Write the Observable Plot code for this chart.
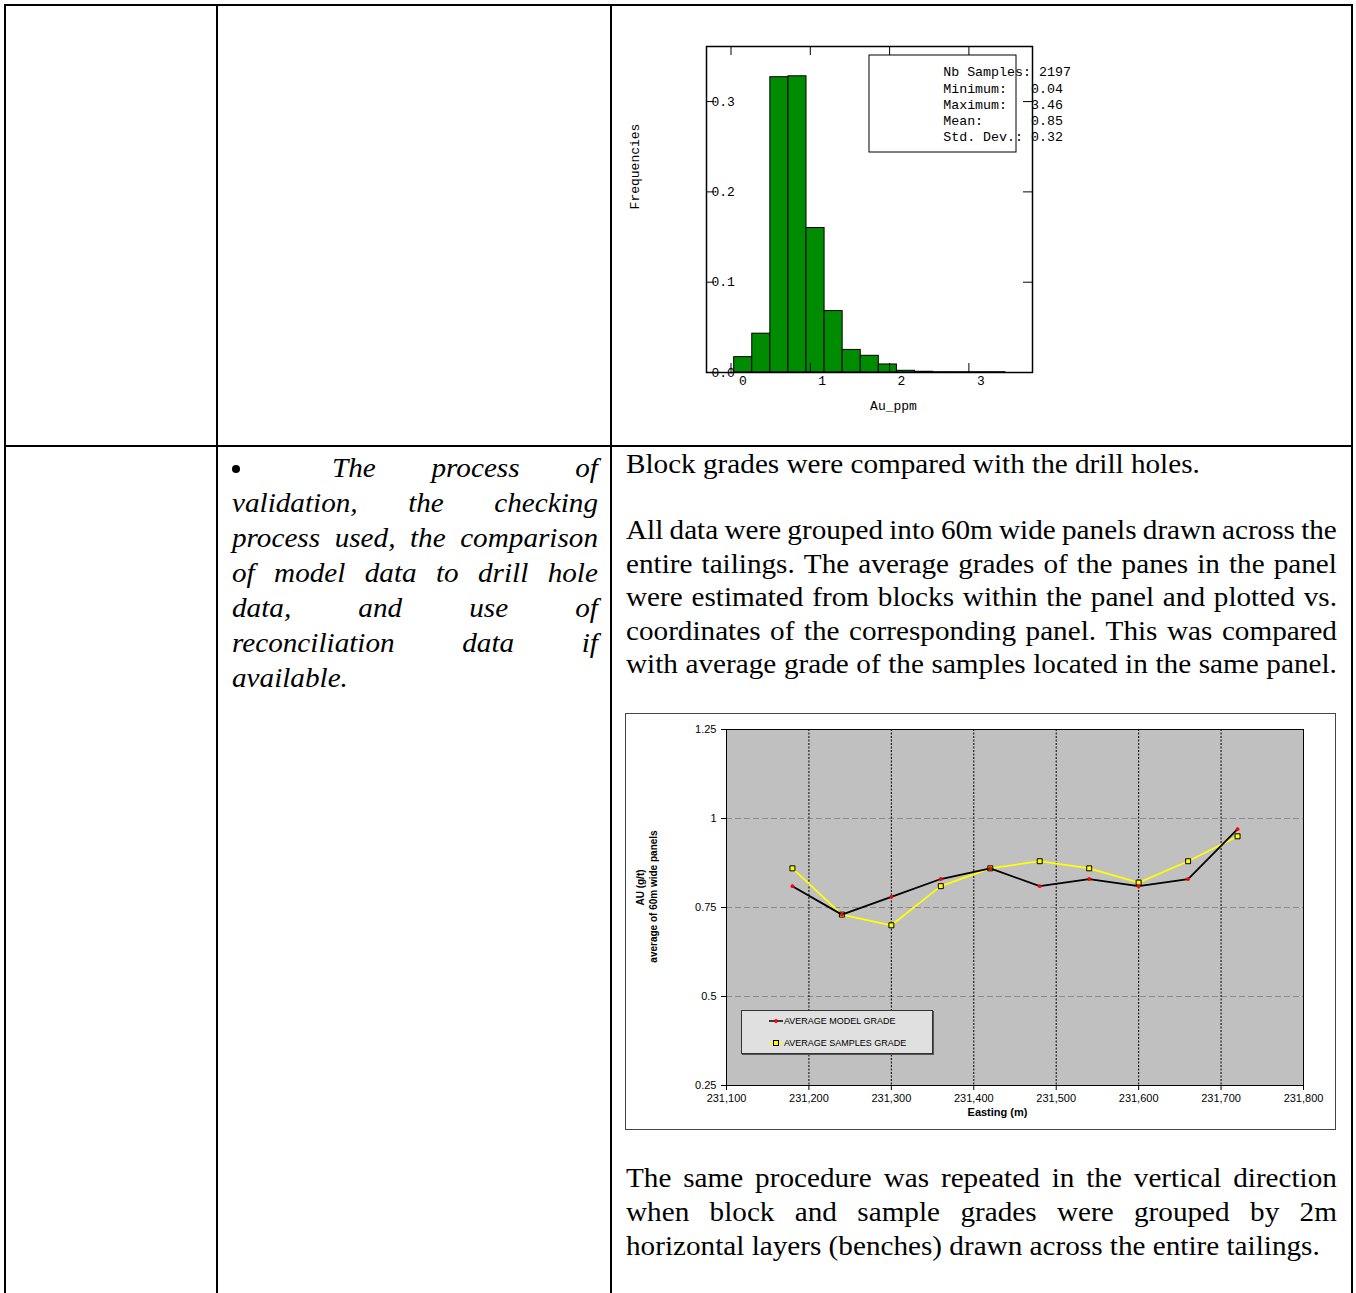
<!DOCTYPE html>
<html><head><meta charset="utf-8">
<script src="https://cdn.jsdelivr.net/npm/d3@7"></script>
<script src="https://cdn.jsdelivr.net/npm/@observablehq/plot@0.6"></script>
<style>
html,body{margin:0;padding:0;background:#fff;}
#page{position:relative;width:1356px;height:1293px;overflow:hidden;background:#fff;}
.b{position:absolute;background:#000;}
.ln{position:absolute;font-family:"Liberation Serif","Times New Roman",serif;font-size:27px;line-height:34px;height:34px;white-space:nowrap;transform-origin:0 0;transform:scaleX(1.081);display:flex;align-items:baseline;color:#000;}
.ln.i{font-style:italic;line-height:35px;height:35px;}
.ln.j{justify-content:space-between;}
.ln.j span{white-space:pre;}
#hist{position:absolute;left:620px;top:40px;width:460px;height:380px;}
#chart{position:absolute;left:625px;top:713px;width:711px;height:417px;}
#chartBox{position:absolute;left:625px;top:713px;width:711px;height:417px;box-sizing:border-box;border:1px solid #444;pointer-events:none;}
#legend{position:absolute;left:741px;top:1010px;width:192px;height:44px;box-sizing:border-box;border:1px solid #333;box-shadow:1px 1px 0 #555;background:#e0e0e0;font-family:"Liberation Sans",Arial,sans-serif;font-size:9px;}
#legend svg{position:absolute;left:0;top:0;}
#bullet{position:absolute;left:231px;top:455px;width:12px;height:12px;font-size:0;}
#bullet i{position:absolute;left:1px;top:2px;width:8px;height:8px;border-radius:50%;background:#000;}
svg text{white-space:pre;}
</style>
</head><body>
<div id="page">
  <div class="b" style="left:4px;top:4px;width:2px;height:1289px"></div>
  <div class="b" style="left:216px;top:4px;width:2px;height:1289px"></div>
  <div class="b" style="left:610px;top:4px;width:2px;height:1289px"></div>
  <div class="b" style="left:1351px;top:4px;width:2px;height:1289px"></div>
  <div class="b" style="left:4px;top:4px;width:1349px;height:2px"></div>
  <div class="b" style="left:4px;top:445px;width:1349px;height:2px"></div>
  <div id="hist"></div>
  <div id="text"></div>
  <div id="bullet"><i></i></div>
  <div id="chart"></div>
  <div id="chartBox"></div>
  <div id="legend"></div>
</div>
<script>
// ---------- Histogram data ----------
const binEdges = [0.04, 0.268, 0.496, 0.724, 0.952, 1.18, 1.408, 1.636, 1.864, 2.092, 2.32, 2.548, 2.776, 3.004, 3.232, 3.46];
const binFreq = [0.017, 0.043, 0.327, 0.328, 0.160, 0.068, 0.025, 0.0185, 0.0089, 0.0019, 0.0008, 0.0003, 0.0003, 0.0003, 0.0003];
const histXTicks = [0, 1, 2, 3];
const histYTicks = [0, 0.1, 0.2, 0.3];
const statNames = ["Nb Samples:", "Minimum:", "Maximum:", "Mean:", "Std. Dev.:"];
const statValues = ["2197", "0.04", "3.46", "0.85", "0.32"];

// ---------- Line chart data ----------
const eastings = [231180, 231240, 231300, 231360, 231420, 231480, 231540, 231600, 231660, 231720];
const modelGrade = [0.81, 0.73, 0.78, 0.83, 0.86, 0.81, 0.83, 0.81, 0.83, 0.97];
const samplesGrade = [0.86, 0.73, 0.70, 0.81, 0.86, 0.88, 0.86, 0.82, 0.88, 0.95];
const chartXTicks = [231100, 231200, 231300, 231400, 231500, 231600, 231700, 231800];
const chartYTicks = [0.25, 0.5, 0.75, 1, 1.25];
const seriesNames = ["AVERAGE MODEL GRADE", "AVERAGE SAMPLES GRADE"];

// ---------- Histogram ----------
{
  const W = 460, H = 380, mL = 86, mR = 48, mT = 6, mB = 48;
  const X0 = -0.309, X1 = 3.802, Y1 = 0.361;
  const kx = (W - mL - mR) / (X1 - X0), ky = (H - mT - mB) / Y1;
  const bins = binFreq.map((f, i) => ({x1: binEdges[i], x2: binEdges[i + 1], f}));
  const mono = "Liberation Mono, DejaVu Sans Mono, monospace";
  const statText = statNames.map((n, i) => (n + " ").padEnd(11) + statValues[i]).join("\n");
  const p = Plot.plot({
    width: W, height: H, marginLeft: mL, marginRight: mR, marginTop: mT, marginBottom: mB,
    style: {fontFamily: mono, fontSize: "13px", background: "transparent", color: "#000", overflow: "visible"},
    x: {domain: [X0, X1], axis: null},
    y: {domain: [0, Y1], axis: null},
    marks: [
      Plot.rectY(bins, {x1: "x1", x2: "x2", y: "f", fill: "#008c00", stroke: "#000", strokeWidth: 1}),
      Plot.ruleX(histXTicks, {x: d => d, y1: 0, y2: 9 / ky, stroke: "#000"}),
      Plot.ruleX(histXTicks, {x: d => d, y1: Y1 - 9 / ky, y2: Y1, stroke: "#000"}),
      Plot.ruleY(histYTicks, {y: d => d, x1: X0, x2: X0 + 8 / kx, stroke: "#000"}),
      Plot.ruleY(histYTicks, {y: d => d, x1: X1 - 9 / kx, x2: X1, stroke: "#000"}),
      Plot.text(histYTicks, {y: d => d, text: d => d3.format(".1f")(d), frameAnchor: "left", dx: 5, textAnchor: "start", lineAnchor: "middle", fill: "#000", fontSize: 13}),
      Plot.text(histXTicks, {x: d => d, text: d => String(d), frameAnchor: "bottom", dx: 8, dy: 8, textAnchor: "start", lineAnchor: "middle", fill: "#000", fontSize: 13}),
      Plot.rect([{}], {x1: X0 + (869 - 706) / kx, x2: X0 + (1016 - 706) / kx, y1: Y1 - (152 - 46) / ky, y2: Y1 - (55 - 46) / ky, fill: "#fff", stroke: "#000", strokeWidth: 1}),
      Plot.text([statText], {text: d => d, frameAnchor: "top-left", dx: 236.7, dy: 18.3, textAnchor: "start", lineAnchor: "top", lineHeight: 16.25 / 13.3, fill: "#000", fontSize: 13.3}),
      Plot.text(["Frequencies"], {text: d => d, frameAnchor: "left", dx: -72, dy: -43, rotate: -90, textAnchor: "middle", lineAnchor: "middle", fill: "#000", fontSize: 13}),
      Plot.text(["Au_ppm"], {text: d => d, frameAnchor: "bottom", dx: 24, dy: 33, textAnchor: "middle", lineAnchor: "middle", fill: "#000", fontSize: 13}),
      Plot.frame({stroke: "#000", strokeWidth: 1.5})
    ]
  });
  document.getElementById("hist").appendChild(p);
}

// ---------- Line chart ----------
{
  const model = eastings.map((x, i) => ({x, y: modelGrade[i]}));
  const samples = eastings.map((x, i) => ({x, y: samplesGrade[i]}));
  const sans = "Liberation Sans, Arial, sans-serif";
  const p = Plot.plot({
    width: 711, height: 417, marginLeft: 101, marginRight: 33, marginTop: 16, marginBottom: 45,
    style: {fontFamily: sans, fontSize: "11px", background: "transparent", color: "#000", overflow: "visible"},
    x: {domain: [231100, 231800]},
    y: {domain: [0.25, 1.25]},
    marks: [
      Plot.frame({fill: "#c0c0c0", stroke: null}),
      Plot.ruleY(chartYTicks.slice(1, -1), {y: d => d, stroke: "#8c8c8c", strokeDasharray: "6,3", strokeWidth: 1}),
      Plot.ruleX(chartXTicks.slice(1, -1), {x: d => d, stroke: "#000", strokeDasharray: "2,1.5", strokeWidth: 1}),
      Plot.frame({stroke: "#000", strokeWidth: 1}),
      Plot.axisY({ticks: chartYTicks, tickSize: 5, tickPadding: 5, tickFormat: d => String(d), label: null, fontSize: 11}),
      Plot.axisX({ticks: chartXTicks, tickSize: 5, tickPadding: 4, tickFormat: d3.format(","), label: null, fontSize: 11}),
      Plot.line(samples, {x: "x", y: "y", stroke: "#ffff00", strokeWidth: 1.75}),
      Plot.dot(samples, {x: "x", y: "y", symbol: "square", r: 2.8, fill: "#ffff00", stroke: "#000", strokeWidth: 1}),
      Plot.line(model, {x: "x", y: "y", stroke: "#000", strokeWidth: 1.75}),
      Plot.dot(model, {x: "x", y: "y", r: 1.9, fill: "#ff0000", stroke: null}),
      Plot.text(["AU (g/t)"], {text: d => d, frameAnchor: "left", dx: -86, dy: -20, rotate: -90, textAnchor: "middle", lineAnchor: "middle", fontWeight: "bold", fontSize: 10, fill: "#000"}),
      Plot.text(["average of 60m wide panels"], {text: d => d, frameAnchor: "left", dx: -73, dy: -11, rotate: -90, textAnchor: "middle", lineAnchor: "middle", fontWeight: "bold", fontSize: 10, fill: "#000"}),
      Plot.text(["Easting (m)"], {text: d => d, frameAnchor: "bottom", dx: -17.5, dy: 27, textAnchor: "middle", lineAnchor: "middle", fontWeight: "bold", fontSize: 11, fill: "#000"})
    ]
  });
  document.getElementById("chart").appendChild(p);

  // legend
  const lg = document.getElementById("legend");
  lg.innerHTML = `<svg width="192" height="44">
    <line x1="27" x2="41" y1="10" y2="10" stroke="#000" stroke-width="1.5"/>
    <circle cx="34" cy="10" r="1.9" fill="#ff0000"/>
    <text x="42" y="13.3" fill="#000" font-size="9">${seriesNames[0]}</text>
    <line x1="27" x2="41" y1="32" y2="32" stroke="#ffff00" stroke-width="1.5"/>
    <rect x="31.5" y="29.5" width="5" height="5" fill="#ffff00" stroke="#000" stroke-width="1"/>
    <text x="42" y="35.3" fill="#000" font-size="9">${seriesNames[1]}</text>
  </svg>`;
}

// ---------- Document text ----------
{
  const host = document.getElementById("text");
  const S = 1.081, FS = 27;
  const baseOff = lh => (lh - 1.107 * FS) / 2 + 0.891 * FS;
  function line(txt, left, width, baseline, opts = {}) {
    const d = document.createElement("div");
    const lh = opts.italic ? 35 : 34;
    d.className = "ln" + (opts.italic ? " i" : "") + (opts.justify ? " j" : "");
    d.style.left = left + "px";
    d.style.top = (baseline - baseOff(lh)) + "px";
    d.style.width = (width / S) + "px";
    if (opts.justify) {
      txt.split(/\s+/).forEach(w => { const s = document.createElement("span"); s.textContent = w; d.appendChild(s); });
    } else {
      d.textContent = txt;
    }
    host.appendChild(d);
  }
  // left column
  const L0 = 478, LS = 35;
  line("The process of", 332, 266, L0, {italic: true, justify: true});
  line("validation, the checking", 232, 366, L0 + LS, {italic: true, justify: true});
  line("process used, the comparison", 232, 366, L0 + 2 * LS, {italic: true, justify: true});
  line("of model data to drill hole", 232, 366, L0 + 3 * LS, {italic: true, justify: true});
  line("data, and use of", 232, 366, L0 + 4 * LS, {italic: true, justify: true});
  line("reconciliation data if", 232, 366, L0 + 5 * LS, {italic: true, justify: true});
  line("available.", 232, 366, L0 + 6 * LS, {italic: true});
  document.getElementById("bullet").style.top = (L0 - 15) + "px";
  // right column
  line("Block grades were compared with the drill holes.", 626, 711, 473.5);
  const R0 = 539.3, RS = 33.5;
  ["All data were grouped into 60m wide panels drawn across the",
   "entire tailings. The average grades of the panes in the panel",
   "were estimated from blocks within the panel and plotted vs.",
   "coordinates of the corresponding panel. This was compared",
   "with average grade of the samples located in the same panel."].forEach((t, i) => line(t, 626, 711, R0 + i * RS, {justify: true}));
  line("The same procedure was repeated in the vertical direction", 626, 711, 1187, {justify: true});
  line("when block and sample grades were grouped by 2m", 626, 711, 1221, {justify: true});
  line("horizontal layers (benches) drawn across the entire tailings.", 626, 711, 1255);
}
</script>
</body></html>
